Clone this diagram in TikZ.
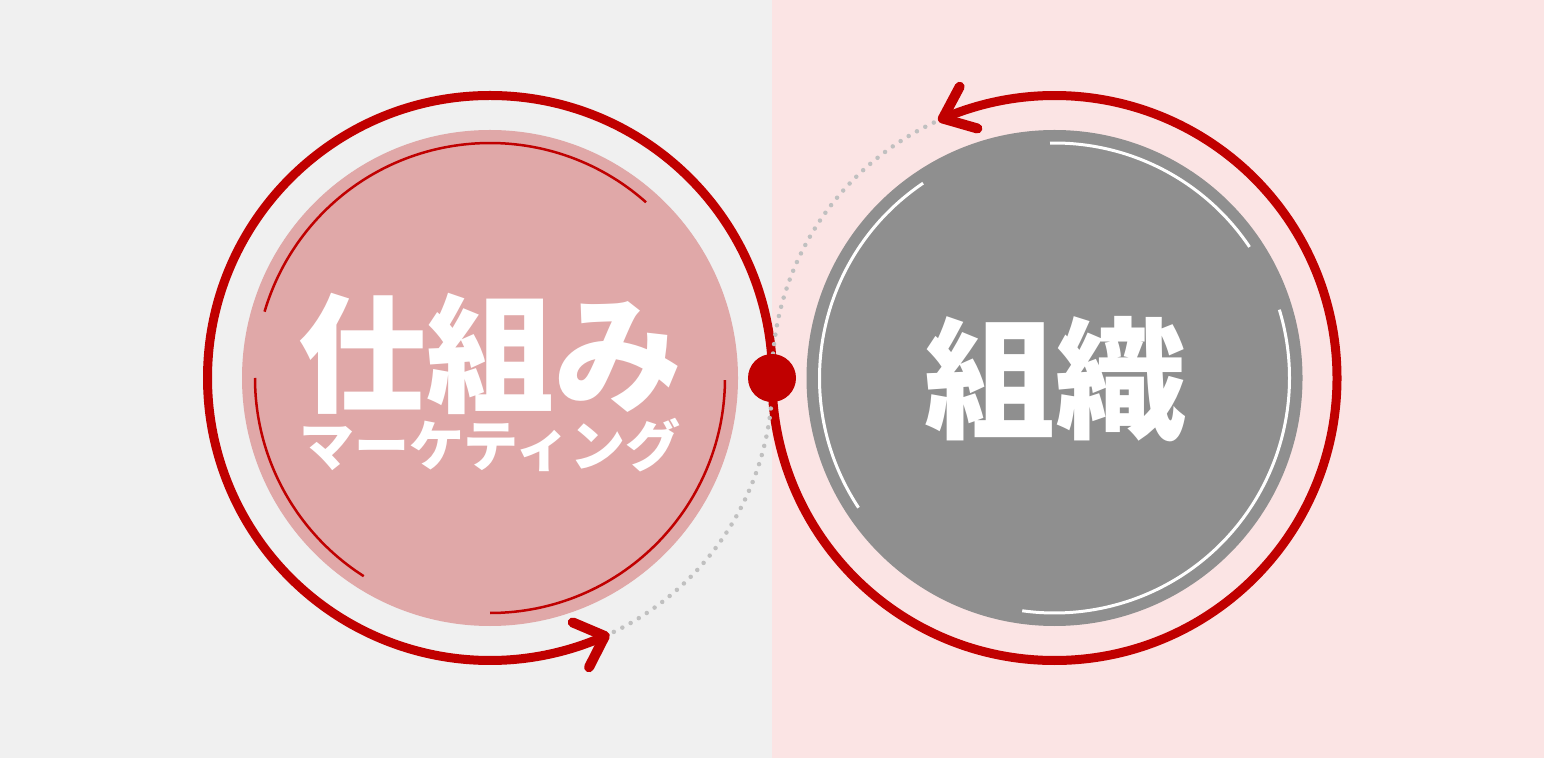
\documentclass[tikz,border=0pt]{standalone}
\usepackage{fontspec}
\newfontfamily\cjk{Noto Sans CJK JP}[BoldFont={Noto Sans CJK JP Black}]
\usetikzlibrary{calc}
\definecolor{bgleft}{HTML}{F0F0F0}
\definecolor{bgright}{HTML}{FBE4E4}
\definecolor{darkred}{HTML}{C00000}
\definecolor{pinkfill}{HTML}{E0A8A8}
\definecolor{grayfill}{HTML}{8F8F8F}
\definecolor{dotgray}{HTML}{C0C0C0}
\tikzset{
  outerring/.style={draw=darkred, line width=9pt},
  chevron/.style={draw=darkred, line width=10pt, line cap=round, line join=round},
  thinred/.style={draw=darkred, line width=2.5pt},
  thinwhite/.style={draw=white, line width=3pt},
  dotted path/.style={draw=dotgray, line width=4.5pt, line cap=round, dash pattern=on 0pt off 9.5pt},
  bigtext/.style={text=white, font=\cjk\bfseries\fontsize{128}{128}\selectfont, inner sep=0pt},
}
\begin{document}
\begin{tikzpicture}[x=1pt,y=1pt]
\useasboundingbox (0,0) rectangle (1544,758);
\fill[bgleft] (0,0) rectangle (772,758);
\fill[bgright] (772,0) rectangle (1544,758);
\coordinate (lc) at (490,380);
\coordinate (rc) at (1054.5,380);
% inner discs
\fill[pinkfill] (lc) circle[radius=248];
\fill[grayfill] (rc) circle[radius=248];
% thin arcs left
\draw[thinred] (lc) ++(48.4:235) arc[start angle=48.4,end angle=163.6,radius=235];
\draw[thinred] (lc) ++(180:235) arc[start angle=180,end angle=237.5,radius=235];
\draw[thinred] (lc) ++(-0.5:235) arc[start angle=-0.5,end angle=-90,radius=235];
% thin arcs right
\draw[thinwhite] (rc) ++(33.9:235) arc[start angle=33.9,end angle=91.1,radius=235];
\draw[thinwhite] (rc) ++(16.9:235) arc[start angle=16.9,end angle=-97.9,radius=235];
\draw[thinwhite] (rc) ++(124:235) arc[start angle=124,end angle=213.5,radius=235];
% texts
\node[bigtext] (shikumi) at (490,404) {仕組み};
\node[bigtext, font=\cjk\bfseries\fontsize{55}{55}\selectfont] (marketing) at (490,313) {マーケティング};
\node[bigtext, font=\cjk\bfseries\fontsize{131}{131}\selectfont] (soshiki) at (1055,379) {組織};
% outer rings
\draw[outerring] (lc) ++(0:282.5) arc[start angle=0,end angle=294,radius=282.5];
\draw[outerring] (rc) ++(180:282.5) arc[start angle=180,end angle=473.3,radius=282.5];
% dotted continuations
\draw[dotted path] (lc) ++(296:282.5) arc[start angle=296,end angle=360,radius=282.5];
\draw[dotted path] (rc) ++(115.3:282.5) arc[start angle=115.3,end angle=180,radius=282.5];
% arrow heads
\coordinate (ltip) at ($(lc)+(294:282.5)$);
\coordinate (rtip) at ($(rc)+(113.3:282.5)$);
\draw[chevron] (ltip) ++(-117:35) -- (ltip) -- ++(-203:35);
\draw[chevron] (rtip) ++(62:36) -- (rtip) -- ++(-16:36);
% junction dot
\fill[darkred] (772,380) circle[radius=24] coordinate (junction);
\end{tikzpicture}
\end{document}
